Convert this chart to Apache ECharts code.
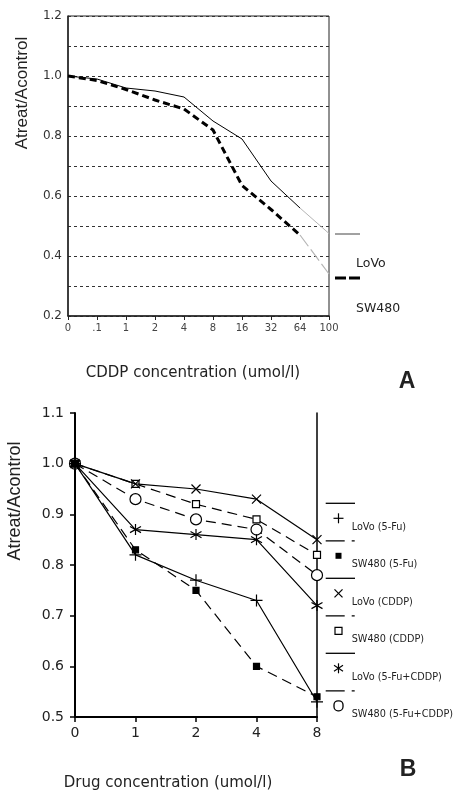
<!DOCTYPE html>
<html>
<head>
    <meta charset="UTF-8">
    <title>CDDP / 5-Fu</title>
    <script src="https://cdn.jsdelivr.net/npm/echarts@6/dist/echarts.min.js"></script>
    <style>
        html, body {
            margin: 0;
            padding: 0;
            background: #fff;
        }

        #chart {
            width: 457px;
            height: 792px;
        }
    </style>
</head>
<body>
<div id="chart"></div>
<script>
    // panel A
    var catsA = ['0', '.1', '1', '2', '4', '8', '16', '32', '64', '100'];
    var lovoA = [1.0, 0.99, 0.96, 0.95, 0.93, 0.85, 0.79, 0.65, 0.56, 0.475];
    var sw480A = [1.0, 0.985, 0.955, 0.92, 0.89, 0.82, 0.635, 0.555, 0.47, 0.34];
    var namesA = ['LoVo', 'SW480'];

    // panel B
    var catsB = ['0', '1', '2', '4', '8'];
    var lovo5Fu = [1.0, 0.82, 0.77, 0.73, 0.53];
    var sw5Fu = [1.0, 0.83, 0.75, 0.60, 0.54];
    var lovoCddp = [1.0, 0.96, 0.95, 0.93, 0.85];
    var swCddp = [1.0, 0.96, 0.92, 0.89, 0.82];
    var lovoBoth = [1.0, 0.87, 0.86, 0.85, 0.72];
    var swBoth = [1.0, 0.93, 0.89, 0.87, 0.78];
    var namesB = ['LoVo (5-Fu)', 'SW480 (5-Fu)', 'LoVo (CDDP)', 'SW480 (CDDP)', 'LoVo (5-Fu+CDDP)', 'SW480 (5-Fu+CDDP)'];

    var PLUS = 'path://M0,5L10,5M5,0L5,10';
    var CROSS = 'path://M0,0L10,10M10,0L0,10';
    var STAR = 'path://M5,0L5,10M0.6,2.2L9.4,7.8M9.4,2.2L0.6,7.8';

    var chart = echarts.init(document.getElementById('chart'));

    var sans = 'DejaVu Sans';

    // markers of panel B: symbol, size, fill, z (open ones below so strokes show through)
    var marksB = [
        {symbol: PLUS, size: 12, fill: '#000', z: 8},
        {symbol: 'rect', size: 6, fill: '#000', z: 7},
        {symbol: CROSS, size: 9, fill: '#000', z: 9},
        {symbol: 'rect', size: 7, fill: '#fff', z: 4},
        {symbol: STAR, size: 11, fill: '#000', z: 10},
        {symbol: 'circle', size: 11, fill: '#fff', z: 3}
    ];
    var dataB = [lovo5Fu, sw5Fu, lovoCddp, swCddp, lovoBoth, swBoth];

    var series = [];
    // A: black part up to 64, light grey last segment
    series.push({
        type: 'line', xAxisIndex: 0, yAxisIndex: 0, name: namesA[0],
        data: lovoA.map(function (v, i) { return i <= 8 ? v : null; }),
        showSymbol: false, silent: true,
        lineStyle: {color: '#000', width: 1}
    });
    series.push({
        type: 'line', xAxisIndex: 0, yAxisIndex: 0,
        data: lovoA.map(function (v, i) { return i >= 8 ? v : null; }),
        showSymbol: false, silent: true,
        lineStyle: {color: '#b5b5b5', width: 1}
    });
    series.push({
        type: 'line', xAxisIndex: 0, yAxisIndex: 0, name: namesA[1],
        data: sw480A.map(function (v, i) { return i <= 8 ? v : null; }),
        showSymbol: false, silent: true,
        lineStyle: {color: '#000', width: 3, type: [7, 4]}
    });
    series.push({
        type: 'line', xAxisIndex: 0, yAxisIndex: 0,
        data: sw480A.map(function (v, i) { return i >= 8 ? v : null; }),
        showSymbol: false, silent: true,
        lineStyle: {color: '#b5b5b5', width: 1.2, type: [14, 4]}
    });

    for (var k = 0; k < dataB.length; k++) {
        series.push({
            type: 'line', xAxisIndex: 1, yAxisIndex: 1, name: namesB[k],
            data: dataB[k],
            symbol: marksB[k].symbol,
            symbolSize: marksB[k].size,
            silent: true,
            itemStyle: {color: marksB[k].fill, borderColor: '#000', borderWidth: 1.2},
            lineStyle: {color: '#000', width: 1.2, type: k % 2 ? [10, 6] : 'solid'},
            z: marksB[k].z
        });
    }

    // legend and labels drawn as graphic
    var graphic = [];
    function txt(s, x, y, font, align, rot) {
        return {
            type: 'text', x: x, y: y, rotation: rot || 0, silent: true,
            style: {text: s, font: font, fill: '#222', textAlign: align || 'left', textVerticalAlign: 'middle'}
        };
    }
    function seg(x1, y1, x2, y2, w, dash) {
        return {
            type: 'line', silent: true,
            shape: {x1: x1, y1: y1, x2: x2, y2: y2},
            style: {stroke: '#000', lineWidth: w || 1.2, lineDash: dash || null}
        };
    }

    graphic.push(txt('Atreat/Acontrol', 22, 93, '17px "Liberation Sans"', 'center', Math.PI / 2));
    graphic.push(txt('CDDP concentration (umol/l)', 193, 373, '15px "' + sans + '"', 'center'));
    graphic.push(txt('A', 407, 382, 'bold 23px "Liberation Sans"', 'center'));
    graphic.push(txt('Atreat/Acontrol', 15, 501, '18px "Liberation Sans"', 'center', Math.PI / 2));
    graphic.push(txt('Drug concentration (umol/l)', 168, 783, '15px "' + sans + '"', 'center'));
    graphic.push(txt('B', 408, 770, 'bold 23px "Liberation Sans"', 'center'));

    // legend A
    var la = seg(335, 234, 360, 234, 1);
    la.style.stroke = '#444';
    graphic.push(la);
    graphic.push(txt(namesA[0], 356, 264, '12.5px "' + sans + '"'));
    graphic.push(seg(335, 278, 360, 278, 3, [11, 3]));
    graphic.push(txt(namesA[1], 356, 309, '12.5px "' + sans + '"'));

    // legend B
    for (var i = 0; i < namesB.length; i++) {
        var y = 503.3 + 37.5 * i;
        var mx = 338.5, my = y + 15;
        graphic.push(seg(325.7, y, 355, y, 1.3, i % 2 ? [19, 7, 3, 100] : null));
        graphic.push(txt(namesB[i], 351.7, y + 24, '9.7px "' + sans + '"'));
        if (i === 0) {
            graphic.push(seg(mx - 5, my, mx + 5, my));
            graphic.push(seg(mx, my - 5, mx, my + 5));
        } else if (i === 1) {
            graphic.push({type: 'rect', silent: true, shape: {x: mx - 3, y: my - 3, width: 6, height: 6}, style: {fill: '#000'}});
        } else if (i === 2) {
            graphic.push(seg(mx - 4, my - 4, mx + 4, my + 4));
            graphic.push(seg(mx + 4, my - 4, mx - 4, my + 4));
        } else if (i === 3) {
            graphic.push({type: 'rect', silent: true, shape: {x: mx - 3.5, y: my - 3.5, width: 7, height: 7}, style: {fill: '#fff', stroke: '#000', lineWidth: 1.2}});
        } else if (i === 4) {
            graphic.push(seg(mx, my - 5, mx, my + 5));
            graphic.push(seg(mx - 4.5, my - 3, mx + 4.5, my + 3));
            graphic.push(seg(mx + 4.5, my - 3, mx - 4.5, my + 3));
        } else {
            graphic.push({type: 'rect', silent: true, shape: {x: mx - 4.5, y: my - 5, width: 9, height: 10, r: 4}, style: {fill: '#fff', stroke: '#000', lineWidth: 1.3}});
        }
    }

    var option = {
        animation: false,
        backgroundColor: '#fff',
        grid: [
            {left: 68, top: 16, width: 261, height: 300, show: true, borderColor: '#222', borderWidth: 1},
            {left: 75, top: 413, width: 242, height: 304}
        ],
        xAxis: [
            {
                type: 'category', gridIndex: 0, data: catsA, boundaryGap: false,
                axisLine: {lineStyle: {color: '#222', width: 1.5}},
                axisTick: {length: 4, lineStyle: {color: '#222'}},
                axisLabel: {interval: 0, fontSize: 10, fontFamily: sans, color: '#444', margin: 7}
            },
            {
                type: 'category', gridIndex: 1, data: catsB, boundaryGap: false,
                axisLine: {lineStyle: {color: '#000', width: 2}},
                axisTick: {length: 5, lineStyle: {color: '#000', width: 1.5}},
                axisLabel: {interval: 0, fontSize: 14, fontFamily: sans, color: '#222', margin: 9}
            }
        ],
        yAxis: [
            {
                type: 'value', gridIndex: 0, min: 0.2, max: 1.2, interval: 0.1,
                axisLine: {show: true, lineStyle: {color: '#222', width: 1.5}},
                axisTick: {show: false},
                axisLabel: {
                    fontSize: 12, fontFamily: sans, color: '#333', margin: 6,
                    formatter: function (v) { return Math.round(v * 10) % 2 === 0 ? v.toFixed(1) : ''; }
                },
                splitLine: {lineStyle: {color: '#333', width: 1, type: [3, 3]}}
            },
            {
                type: 'value', gridIndex: 1, min: 0.5, max: 1.1, interval: 0.1,
                axisLine: {show: true, lineStyle: {color: '#000', width: 2}},
                axisTick: {show: true, length: 5, lineStyle: {color: '#000', width: 1.5}},
                axisLabel: {
                    fontSize: 14, fontFamily: sans, color: '#222', margin: 11,
                    formatter: function (v) { return v.toFixed(1); }
                },
                splitLine: {show: false}
            },
            {
                type: 'value', gridIndex: 1, position: 'right', min: 0.5, max: 1.1, interval: 0.1,
                axisLine: {show: true, lineStyle: {color: '#000', width: 1.5}},
                axisTick: {show: false}, axisLabel: {show: false}, splitLine: {show: false}
            }
        ],
        graphic: graphic,
        series: series
    };
    chart.setOption(option);
</script>
</body>
</html>
